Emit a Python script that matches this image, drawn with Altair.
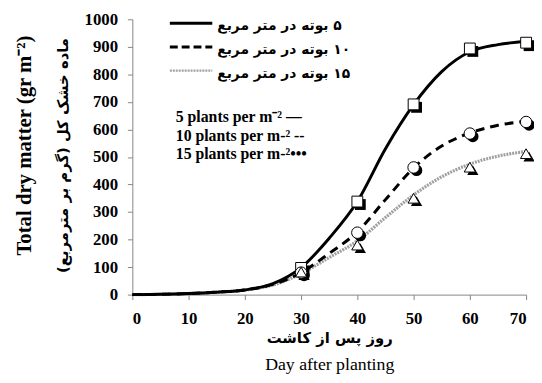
import altair as alt
import pandas as pd

# ---- data ----
curve_days = [0, 5, 10, 15, 20, 25, 30, 35, 40, 45, 50, 55, 60, 65, 70]
curve_5 = [0, 1, 4, 9, 17, 40, 98, 205, 338, 530, 690, 810, 882, 908, 920]
curve_10 = [0, 1, 4, 9, 17, 37, 80, 150, 228, 345, 460, 540, 587, 615, 630]
curve_15 = [0, 1, 4, 9, 17, 35, 76, 135, 195, 280, 362, 428, 474, 503, 520]

obs_days = [30, 40, 50, 60, 70]
obs_5 = [97, 338, 691, 894, 915]
obs_10 = [80, 225, 462, 585, 627]
obs_15 = [82, 180, 350, 463, 512]

x_ticks = [0, 10, 20, 30, 40, 50, 60, 70]
y_ticks = [0, 100, 200, 300, 400, 500, 600, 700, 800, 900, 1000]

fa_legend = ["\u200f۵ بوته در متر مربع", "\u200f۱۰ بوته در متر مربع", "\u200f۱۵ بوته در متر مربع"]
en_legend = ["5 plants per m\u207b\u00b2 \u2014", "10 plants per m-\u00b2 --", "15 plants per m-\u00b2\u2022\u2022\u2022"]

y_title_en = "Total dry matter (gr m\u207b\u00b2)"
y_title_fa = "\u200fماده خشک کل (گرم بر مترمربع)\u200f"
x_title_fa = "\u200fروز پس از کاشت"
x_title_en = "Day after planting"

W, H = 399, 279
SERIF = "Liberation Serif"
FA = "DejaVu Sans"

curves = pd.DataFrame({"day": curve_days, "c5": curve_5, "c10": curve_10, "c15": curve_15})
obs = pd.DataFrame({"day": obs_days, "o5": obs_5, "o10": obs_10, "o15": obs_15})

xs = alt.Scale(domain=[0, 70], nice=False)
ys = alt.Scale(domain=[0, 1000], nice=False)

x_axis = alt.Axis(values=x_ticks, format="d", title=None, grid=False, domainColor="#858585",
                  tickColor="#858585", tickSize=5, labelFont=SERIF, labelFontSize=17,
                  labelFontWeight="bold", labelColor="black", labelPadding=11)
y_axis = alt.Axis(values=y_ticks, format="d", title=None, grid=False, domainColor="#858585",
                  tickColor="#858585", tickSize=5, labelFont=SERIF, labelFontSize=17,
                  labelFontWeight="bold", labelColor="black", labelPadding=10)


def X():
    return alt.X("day:Q", scale=xs, axis=x_axis)


def Y(col):
    return alt.Y(f"{col}:Q", scale=ys, axis=y_axis)


base = alt.Chart(curves)

line5 = base.mark_line(color="black", strokeWidth=3, interpolate="monotone").encode(x=X(), y=Y("c5"))
line10 = base.mark_line(color="black", strokeWidth=3, strokeDash=[9, 6], interpolate="monotone").encode(
    x=X(), y=Y("c10"))
line15 = base.mark_line(color="#a0a0a0", strokeWidth=3.2, strokeDash=[2, 1], interpolate="monotone").encode(
    x=X(), y=Y("c15"))

ob = alt.Chart(obs)
specs = [("o5", "square", 121), ("o10", "circle", 135), ("o15", "triangle-up", 130)]
marks = []
for col, shape, size in specs:
    marks.append(ob.mark_point(shape=shape, size=size, filled=True, color="black",
                               opacity=1, xOffset=3, yOffset=3).encode(x=X(), y=Y(col)))
for col, shape, size in specs:
    marks.append(ob.mark_point(shape=shape, size=size, filled=True, fill="white",
                               stroke="black", strokeWidth=1, opacity=1).encode(x=X(), y=Y(col)))

one = pd.DataFrame({"k": [0]})
ann = []
# Persian legend
styles = [dict(color="black", strokeWidth=3),
          dict(color="black", strokeWidth=3, strokeDash=[8, 4]),
          dict(color="#a0a0a0", strokeWidth=2.5, strokeDash=[2, 1])]
for i, (lab, st) in enumerate(zip(fa_legend, styles)):
    yy = 4 + i * 24
    ann.append(alt.Chart(one).mark_rule(**st).encode(
        x=alt.value(38), x2=alt.value(81), y=alt.value(yy)))
    ann.append(alt.Chart(one).mark_text(text=lab, font=FA, fontSize=14, fontWeight="bold",
                                        align="left", baseline="middle").encode(
        x=alt.value(86), y=alt.value(yy + 3)))
# English legend
for i, lab in enumerate(en_legend):
    ann.append(alt.Chart(one).mark_text(text=lab, font=SERIF, fontSize=16, fontWeight="bold",
                                        align="left", baseline="middle").encode(
        x=alt.value(44), y=alt.value(99 + i * 19)))
# titles
ann.append(alt.Chart(one).mark_text(text=y_title_en, font=SERIF, fontSize=21, fontWeight="bold",
                                    angle=270, align="center", baseline="middle").encode(
    x=alt.value(-109), y=alt.value(128)))
ann.append(alt.Chart(one).mark_text(text=y_title_fa, font=FA, fontSize=15, fontWeight="bold",
                                    angle=270, align="center", baseline="middle").encode(
    x=alt.value(-70), y=alt.value(138)))
ann.append(alt.Chart(one).mark_text(text=x_title_fa, font=FA, fontSize=15, fontWeight="bold",
                                    align="center", baseline="middle").encode(
    x=alt.value(200), y=alt.value(323)))
ann.append(alt.Chart(one).mark_text(text=x_title_en, font=SERIF, fontSize=18,
                                    align="center", baseline="middle").encode(
    x=alt.value(200), y=alt.value(350)))

chart = alt.layer(line15, line10, line5, *marks, *ann).properties(
    width=W, height=H,
    autosize=alt.AutoSizeParams(type="none"),
    padding={"left": 126, "top": 9, "right": 8, "bottom": 79},
).configure_view(stroke=None)

chart.save("out.html", embed_options={"renderer": "svg", "actions": False})
